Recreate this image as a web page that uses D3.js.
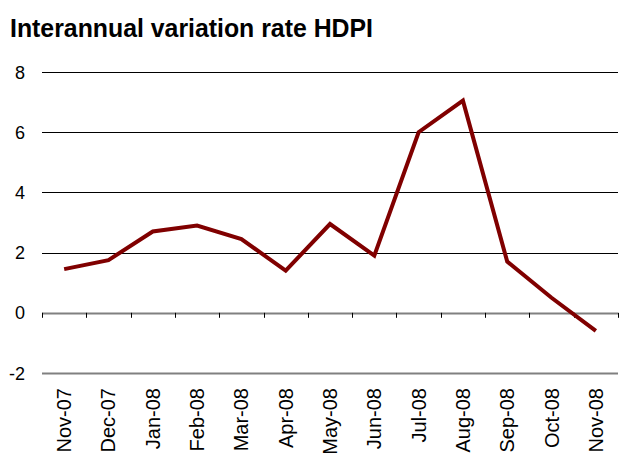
<!DOCTYPE html>
<html>
<head>
<meta charset="utf-8">
<script src="https://cdn.jsdelivr.net/npm/d3@7"></script>
<style>
  body { margin: 0; background: #fff; }
  svg text { font-family: "Liberation Sans", Arial, sans-serif; }
</style>
</head>
<body>
<div class="chart"></div>
<script>
var months = ['Nov-07', 'Dec-07', 'Jan-08', 'Feb-08', 'Mar-08', 'Apr-08', 'May-08',
              'Jun-08', 'Jul-08', 'Aug-08', 'Sep-08', 'Oct-08', 'Nov-08'];
var rates = [1.45, 1.75, 2.7, 2.9, 2.45, 1.4, 2.95, 1.9, 6.0, 7.05, 1.7, 0.5, -0.6];
var yTicks = [-2, 0, 2, 4, 6, 8];

var width = 620;
var height = 466;
var plotLeft = 42;
var plotRight = 618;
var plotTop = 72;
var plotBottom = 373;

var svg = d3.select('.chart').append('svg').attr('width', width).attr('height', height);

svg.append('text')
  .attr('x', 10)
  .attr('y', 37)
  .attr('font-size', 26.5)
  .attr('font-weight', 'bold')
  .attr('textLength', 363)
  .attr('lengthAdjust', 'spacingAndGlyphs')
  .text('Interannual variation rate HDPI');

var x = d3.scaleBand().domain(months).range([plotLeft, plotRight]);
var y = d3.scaleLinear().domain([-2, 8]).range([plotBottom, plotTop]);

// gridlines (zero line and floor are grey)
svg.append('g')
  .selectAll('line')
  .data(yTicks)
  .enter()
  .append('line')
  .attr('x1', plotLeft)
  .attr('x2', plotRight)
  .attr('y1', function (d) { return Math.round(y(d)) + 0.5; })
  .attr('y2', function (d) { return Math.round(y(d)) + 0.5; })
  .attr('stroke', function (d) { return d > 0 ? '#000' : '#808080'; })
  .attr('stroke-width', function (d) { return d > 0 ? 1 : 2; });

// y labels
svg.append('g')
  .selectAll('text')
  .data(yTicks)
  .enter()
  .append('text')
  .attr('x', 25)
  .attr('y', function (d) { return y(d) + 6.5; })
  .attr('text-anchor', 'end')
  .attr('font-size', 18)
  .text(function (d) { return d; });

// category ticks on zero line
var tickPos = months.map(function (m) { return x(m); }).concat([plotRight]);
svg.append('g')
  .selectAll('line')
  .data(tickPos)
  .enter()
  .append('line')
  .attr('x1', function (d) { return Math.round(d) + 0.5; })
  .attr('x2', function (d) { return Math.round(d) + 0.5; })
  .attr('y1', y(0))
  .attr('y2', y(0) + 5)
  .attr('stroke', '#000')
  .attr('stroke-width', 1);

// x labels
svg.append('g')
  .selectAll('text')
  .data(months)
  .enter()
  .append('text')
  .attr('transform', function (d) {
    return 'translate(' + (x(d) + x.bandwidth() / 2 + 7) + ',388) rotate(-90)';
  })
  .attr('text-anchor', 'end')
  .attr('font-size', 20)
  .text(function (d) { return d; });

var line = d3.line()
  .x(function (d, i) { return x(months[i]) + x.bandwidth() / 2; })
  .y(function (d) { return y(d); });

svg.append('path')
  .datum(rates)
  .attr('d', line)
  .attr('fill', 'none')
  .attr('stroke', '#800000')
  .attr('stroke-width', 4)
  .attr('stroke-linejoin', 'miter');
</script>
</body>
</html>
